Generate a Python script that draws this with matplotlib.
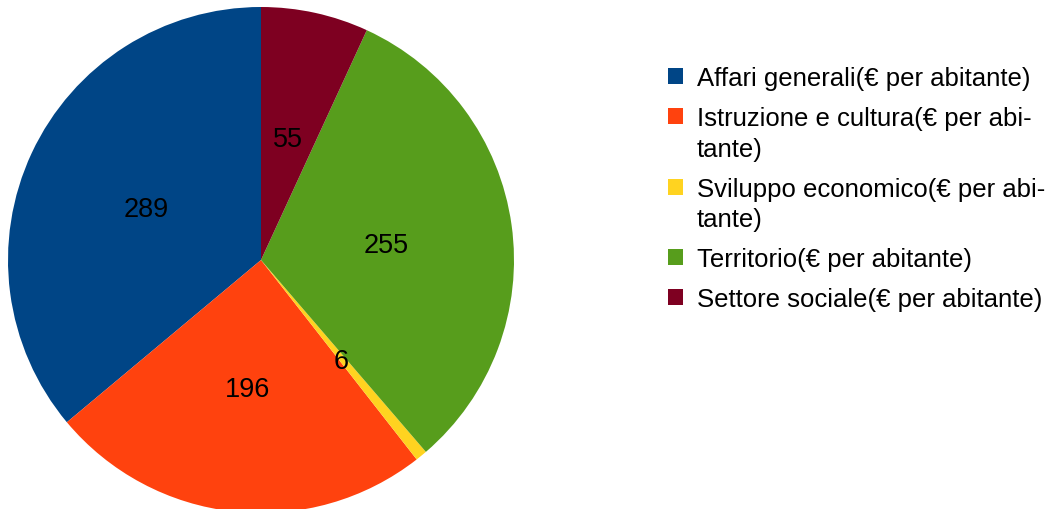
import matplotlib
matplotlib.use("Agg")
import matplotlib.pyplot as plt
from matplotlib.patches import Patch, Rectangle
from matplotlib.legend_handler import HandlerPatch

plt.rcParams['font.family'] = ['Liberation Sans', 'DejaVu Sans']

categories = [
    "Affari generali(€ per abitante)",
    "Istruzione e cultura(€ per abitante)",
    "Sviluppo economico(€ per abitante)",
    "Territorio(€ per abitante)",
    "Settore sociale(€ per abitante)",
]
legend_labels = [
    "Affari generali(€ per abitante)",
    "Istruzione e cultura(€ per abi-\ntante)",
    "Sviluppo economico(€ per abi-\ntante)",
    "Territorio(€ per abitante)",
    "Settore sociale(€ per abitante)",
]
values = [289, 196, 6, 255, 55]
colors = ["#004586", "#ff420e", "#ffd320", "#579d1c", "#7e0021"]

W, H = 1050, 510
LEG_FS = 18.5
LEG_LS = 1.35

fig = plt.figure(figsize=(W / 100, H / 100), dpi=100)
cx, cy, r = 261, 261, 253
ax = fig.add_axes([(cx - r) / W, (H - cy - r) / H, 2 * r / W, 2 * r / H])

wedges, texts = ax.pie(
    values,
    colors=colors,
    startangle=90,
    counterclock=True,
    radius=1,
    labels=[str(v) for v in values],
    labeldistance=0.5,
    wedgeprops=dict(linewidth=0),
    textprops=dict(fontsize=19.5, color="black", ha="center",
                   va="center_baseline"),
)
ax.set_xlim(-1, 1)
ax.set_ylim(-1, 1)
ax.axis("off")


# Legend squares sit on the first line of a wrapped label
handles = [Patch(facecolor=c, edgecolor="none") for c in colors]
line_counts = {id(h): lab.count("\n") + 1 for h, lab in zip(handles, legend_labels)}


def first_line_square(legend, orig_handle, xdescent, ydescent, width, height, fontsize):
    n = line_counts[id(orig_handle)]
    shift = (n - 1) * LEG_FS * LEG_LS / 2
    return Rectangle((-xdescent, -ydescent + shift), width, height)


leg = fig.legend(
    handles,
    legend_labels,
    loc="upper left",
    bbox_to_anchor=(668 / W, 1 - 67 / H),
    frameon=False,
    fontsize=LEG_FS,
    handlelength=0.58,
    handleheight=0.58,
    handletextpad=0.55,
    labelspacing=0.62,
    borderaxespad=0,
    borderpad=0,
    handler_map={Patch: HandlerPatch(patch_func=first_line_square)},
)
for t in leg.get_texts():
    t.set_linespacing(LEG_LS)

fig.savefig("out.png", dpi=100)
